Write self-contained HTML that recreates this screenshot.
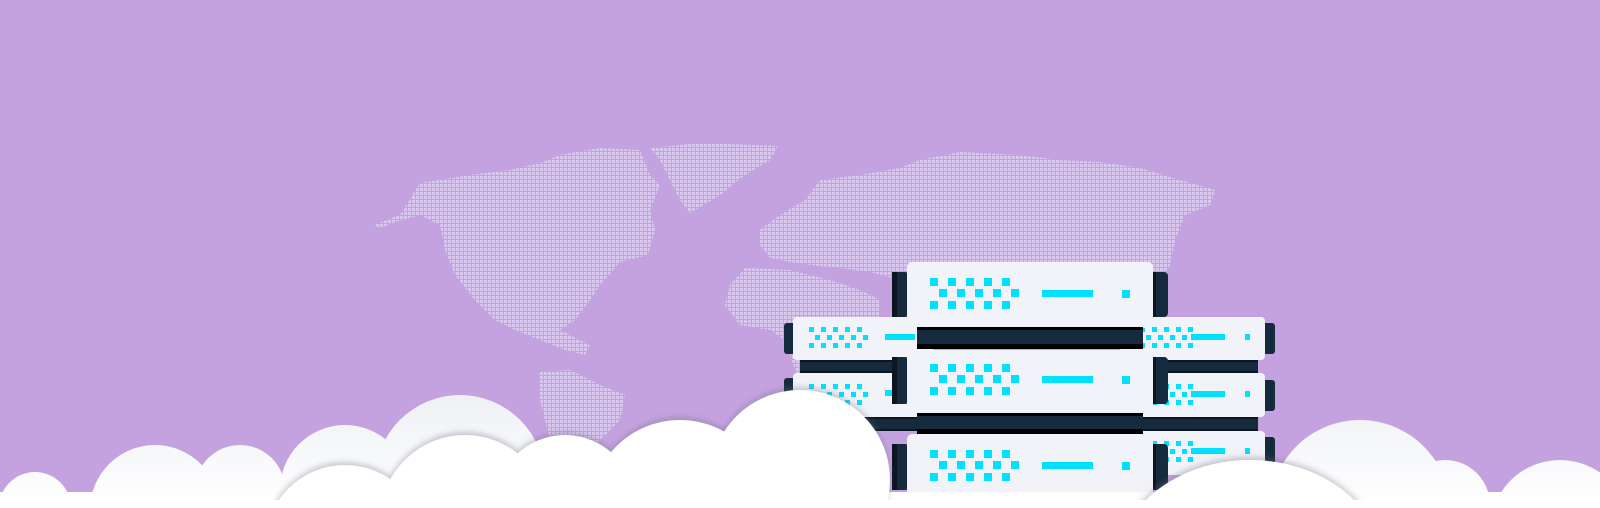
<!DOCTYPE html>
<html><head><meta charset="utf-8"><style>
html,body{margin:0;padding:0;background:#c4a2e0;width:1600px;height:508px;overflow:hidden;}
svg{display:block}
</style></head><body>
<svg width="1600" height="508" viewBox="0 0 1600 508" xmlns="http://www.w3.org/2000/svg">
<defs>
<pattern id="dots" width="4" height="4" patternUnits="userSpaceOnUse">
<rect width="3" height="3" fill="#dac7f0"/>
</pattern>
<linearGradient id="bc" x1="0" y1="380" x2="0" y2="508" gradientUnits="userSpaceOnUse">
<stop offset="0" stop-color="#eceff3"/><stop offset="1" stop-color="#ffffff"/>
</linearGradient>
<filter id="sh" x="-20%" y="-20%" width="140%" height="140%">
<feDropShadow dx="0" dy="-3" stdDeviation="3" flood-color="#6b6b80" flood-opacity="0.35"/>
</filter>
<g id="srvdots">
<rect x="0" y="0" width="8" height="8"/><rect x="18" y="0" width="8" height="8"/><rect x="36" y="0" width="8" height="8"/><rect x="54" y="0" width="8" height="8"/><rect x="72" y="0" width="8" height="8"/>
<rect x="9" y="11" width="8" height="8"/><rect x="27" y="11" width="8" height="8"/><rect x="45" y="11" width="8" height="8"/><rect x="63" y="11" width="8" height="8"/><rect x="81" y="11" width="8" height="8"/>
<rect x="0" y="23" width="8" height="8"/><rect x="18" y="23" width="8" height="8"/><rect x="36" y="23" width="8" height="8"/><rect x="54" y="23" width="8" height="8"/><rect x="72" y="23" width="8" height="8"/>
<rect x="112" y="12" width="51" height="7"/><rect x="192" y="12" width="8" height="8"/>
</g>
<g id="smalldots">
<rect x="0" y="0" width="5" height="5"/><rect x="12" y="0" width="5" height="5"/><rect x="24" y="0" width="5" height="5"/><rect x="36" y="0" width="5" height="5"/><rect x="48" y="0" width="5" height="5"/>
<rect x="6" y="8" width="5" height="5"/><rect x="18" y="8" width="5" height="5"/><rect x="30" y="8" width="5" height="5"/><rect x="42" y="8" width="5" height="5"/><rect x="54" y="8" width="5" height="5"/>
<rect x="0" y="16" width="5" height="5"/><rect x="12" y="16" width="5" height="5"/><rect x="24" y="16" width="5" height="5"/><rect x="36" y="16" width="5" height="5"/><rect x="48" y="16" width="5" height="5"/>
</g>
</defs>

<g fill="url(#dots)">
<polygon points="374,225 400,215 420,183 470,175 510,170 540,163 560,155 600,148 640,150 650,175 660,185 650,210 655,230 648,255 620,262 600,285 590,300 575,320 560,330 590,345 585,355 565,350 540,340 515,330 495,320 475,300 455,275 445,250 440,225 420,215 395,222 380,228"/>
<polygon points="650,148 700,143 778,146 770,160 745,175 720,195 690,213 680,200 670,180 660,160"/>
<polygon points="540,372 570,370 600,385 625,395 620,420 600,440 575,460 560,475 550,440 540,400"/>
<polygon points="760,230 780,215 805,200 820,180 860,175 900,168 920,160 960,152 1020,155 1060,160 1100,162 1140,168 1180,180 1215,190 1210,205 1185,215 1175,240 1170,265 1160,280 1140,300 1120,300 1100,290 1080,280 1050,285 1020,280 990,290 960,295 930,285 900,280 870,272 840,268 810,265 790,262 770,258 760,245"/>
<polygon points="745,268 790,270 830,280 860,290 880,300 880,330 860,360 840,390 810,400 795,370 785,340 770,330 740,325 725,305 730,285"/>
</g>

<rect x="784" y="323" width="12" height="31" rx="3" fill="#152a3c"/>
<rect x="784" y="378" width="12" height="31" rx="3" fill="#152a3c"/>
<rect x="793" y="317" width="140" height="43" rx="4" fill="#f2f3f8"/>
<rect x="800" y="360" width="130" height="13" fill="#0b1620"/><rect x="800" y="362" width="130" height="9" fill="#152a3c"/>
<rect x="793" y="373" width="140" height="44" rx="4" fill="#f2f3f8"/>
<rect x="800" y="417" width="130" height="14" fill="#0b1620"/><rect x="800" y="419" width="130" height="10" fill="#152a3c"/>
<g fill="#00e1ff"><use href="#smalldots" x="809" y="327"/><rect x="885" y="334" width="30" height="6"/><use href="#smalldots" x="809" y="384"/><rect x="885" y="390" width="30" height="6"/></g>

<rect x="1262" y="323" width="13" height="31" rx="3" fill="#152a3c"/>
<rect x="1262" y="380" width="13" height="31" rx="3" fill="#152a3c"/>
<rect x="1262" y="437" width="13" height="31" rx="3" fill="#152a3c"/>
<rect x="1120" y="317" width="145" height="43" rx="4" fill="#f2f3f8"/>
<rect x="1120" y="360" width="138" height="13" fill="#0b1620"/><rect x="1120" y="362" width="138" height="9" fill="#152a3c"/>
<rect x="1120" y="373" width="145" height="44" rx="4" fill="#f2f3f8"/>
<rect x="1120" y="417" width="138" height="14" fill="#0b1620"/><rect x="1120" y="419" width="138" height="10" fill="#152a3c"/>
<rect x="1120" y="431" width="145" height="44" rx="4" fill="#f2f3f8"/>
<g fill="#00e1ff">
<use href="#smalldots" x="1140" y="327"/><rect x="1191" y="334" width="34" height="6"/><rect x="1245" y="334" width="5" height="6"/>
<use href="#smalldots" x="1140" y="384"/><rect x="1191" y="391" width="34" height="6"/><rect x="1245" y="391" width="5" height="6"/>
<use href="#smalldots" x="1140" y="441"/><rect x="1191" y="448" width="34" height="6"/><rect x="1245" y="448" width="5" height="6"/>
</g>

<g fill="#152a3c">
<rect x="892" y="272" width="17" height="45" rx="4"/><rect x="1151" y="272" width="17" height="45" rx="4"/>
<rect x="892" y="357" width="17" height="47" rx="4"/><rect x="1151" y="357" width="17" height="47" rx="4"/>
<rect x="892" y="444" width="17" height="46" rx="4"/><rect x="1151" y="444" width="17" height="46" rx="4"/>
</g>
<g fill="#0b1620">
<rect x="892" y="272" width="5" height="45"/><rect x="1151" y="272" width="5" height="45"/>
<rect x="892" y="357" width="5" height="47"/><rect x="1151" y="357" width="5" height="47"/>
<rect x="892" y="444" width="5" height="46"/><rect x="1151" y="444" width="5" height="46"/>
</g>
<rect x="907" y="262" width="246" height="66" rx="5" fill="#f2f3f8"/>
<rect x="907" y="350" width="246" height="63" rx="5" fill="#f2f3f8"/>
<rect x="907" y="434" width="246" height="66" rx="5" fill="#f2f3f8"/>
<rect x="917" y="327" width="226" height="22" fill="#000"/><rect x="917" y="330" width="226" height="14" fill="#152a3c"/>
<rect x="917" y="413" width="226" height="21" fill="#000"/><rect x="917" y="416" width="226" height="13" fill="#152a3c"/>
<g fill="#00e1ff">
<use href="#srvdots" x="930" y="278"/>
<use href="#srvdots" x="930" y="364"/>
<use href="#srvdots" x="930" y="450"/>
</g>

<g fill="url(#bc)">
<circle cx="35" cy="508" r="36"/>
<circle cx="155" cy="510" r="65"/>
<circle cx="240" cy="490" r="45"/>
<circle cx="345" cy="490" r="65"/>
<circle cx="460" cy="480" r="85"/>
<circle cx="1360" cy="510" r="90"/>
<circle cx="1445" cy="505" r="45"/>
<circle cx="1560" cy="530" r="70"/>
<rect x="0" y="492" width="1600" height="16"/>
</g>

<g fill="#ffffff" filter="url(#sh)">
<circle cx="345" cy="545" r="80"/>
<circle cx="465" cy="520" r="85"/>
<circle cx="565" cy="505" r="70"/>
<circle cx="680" cy="510" r="90"/>
<circle cx="800" cy="480" r="90"/>
<ellipse cx="1250" cy="570" rx="135" ry="110"/>
</g>
<rect x="240" y="500" width="1180" height="8" fill="#fff"/>
</svg>
</body></html>
